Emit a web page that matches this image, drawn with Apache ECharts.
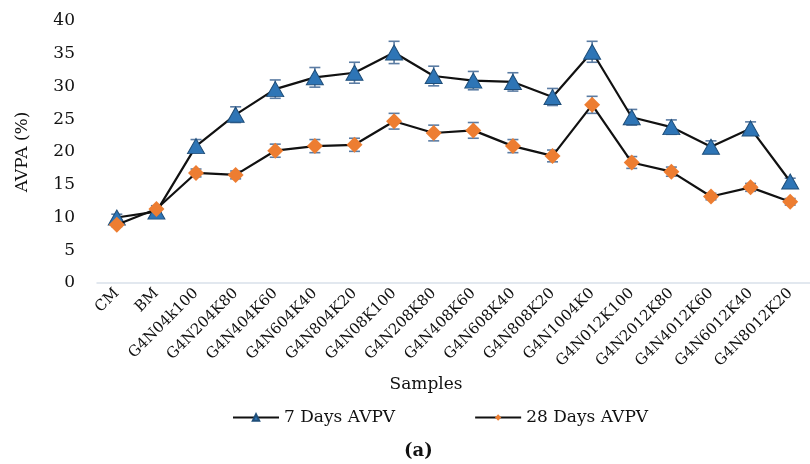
<!DOCTYPE html>
<html>
<head>
<meta charset="utf-8">
<script src="https://cdn.jsdelivr.net/npm/echarts@6/dist/echarts.min.js"></script>
<style>html,body{margin:0;padding:0;background:#fff;}#chart{width:810px;height:464px;}</style>
</head>
<body>
<div id="chart"></div>
<script>
const categories = ['CM','BM','G4N04k100','G4N204K80','G4N404K60','G4N604K40','G4N804K20','G4N08K100','G4N208K80','G4N408K60','G4N608K40','G4N808K20','G4N1004K0','G4N012K100','G4N2012K80','G4N4012K60','G4N6012K40','G4N8012K20'];
const days7 = [10.0, 10.9, 20.9, 25.7, 29.6, 31.4, 32.1, 35.2, 31.6, 30.9, 30.7, 28.4, 35.3, 25.3, 23.8, 20.8, 23.6, 15.5];
const days7Err = [0.5, 0.5, 1.0, 1.2, 1.4, 1.5, 1.6, 1.7, 1.5, 1.4, 1.4, 1.3, 1.6, 1.2, 1.1, 0.9, 1.0, 0.5];
const days28 = [8.9, 11.3, 16.8, 16.5, 20.2, 20.9, 21.1, 24.7, 22.9, 23.3, 20.9, 19.4, 27.2, 18.4, 17.0, 13.2, 14.6, 12.4];
const days28Err = [0.3, 0.5, 0.6, 0.6, 1.0, 1.0, 1.0, 1.2, 1.2, 1.2, 1.0, 0.9, 1.3, 0.9, 0.7, 0.5, 0.6, 0.5];
const yTicks = {min: 0, max: 40, interval: 5};

const FONT = 'DejaVu Serif';
const errColor = '#5b7ca3';

function errData(vals, errs) {
  return vals.map((v, i) => [i, v - errs[i], v + errs[i]]);
}
function renderErr(params, api) {
  const x = api.value(0);
  const lo = api.coord([x, api.value(1)]);
  const hi = api.coord([x, api.value(2)]);
  const cap = 5.5;
  const style = {stroke: errColor, lineWidth: 1.6};
  return {
    type: 'group',
    children: [
      {type: 'line', shape: {x1: lo[0], y1: lo[1], x2: hi[0], y2: hi[1]}, style: style},
      {type: 'line', shape: {x1: lo[0] - cap, y1: lo[1], x2: lo[0] + cap, y2: lo[1]}, style: style},
      {type: 'line', shape: {x1: hi[0] - cap, y1: hi[1], x2: hi[0] + cap, y2: hi[1]}, style: style}
    ]
  };
}

const chart = echarts.init(document.getElementById('chart'), null, {renderer: 'canvas'});
chart.setOption({
  animation: false,
  backgroundColor: '#fff',
  textStyle: {fontFamily: FONT},
  grid: {left: 97, top: 21, width: 725, bottom: 181},
  legend: {
    left: 232, top: 409, padding: 0,
    itemWidth: 46, itemHeight: 8, itemGap: 79,
    textStyle: {fontFamily: FONT, fontSize: 17, color: '#111'},
    data: ['7 Days AVPV', '28 Days AVPV']
  },
  xAxis: {
    type: 'category',
    data: categories,
    boundaryGap: true,
    name: 'Samples',
    nameLocation: 'middle',
    nameGap: 91,
    nameTextStyle: {fontFamily: FONT, fontSize: 17, color: '#111', padding: [0, 55, 0, 0]},
    axisLine: {lineStyle: {color: '#d9e1ea', width: 1.5}},
    axisTick: {show: false},
    axisLabel: {interval: 0, rotate: 45, margin: 8, fontFamily: FONT, fontSize: 15, color: '#111'},
    splitLine: {show: false}
  },
  yAxis: {
    type: 'value',
    min: yTicks.min, max: yTicks.max, interval: yTicks.interval,
    name: 'AVPA (%)',
    nameLocation: 'middle',
    nameGap: 66,
    nameTextStyle: {fontFamily: FONT, fontSize: 17, color: '#111'},
    axisLine: {show: false},
    axisTick: {show: false},
    splitLine: {show: false},
    axisLabel: {margin: 22, fontFamily: FONT, fontSize: 17, color: '#111'}
  },
  graphic: [
    {type: 'text', left: 404, top: 442, style: {text: '(a)', font: 'bold 18px "DejaVu Serif"', fill: '#111'}}
  ],
  series: [
    {type: 'custom', name: 'err7', renderItem: renderErr, data: errData(days7, days7Err), z: 1, silent: true},
    {type: 'custom', name: 'err28', renderItem: renderErr, data: errData(days28, days28Err), z: 1, silent: true},
    {
      type: 'line', name: '7 Days AVPV', data: days7, z: 3,
      symbol: 'triangle', symbolSize: [17, 15],
      lineStyle: {color: '#111', width: 2.2},
      itemStyle: {color: '#2e75b6', borderColor: '#1f4e79', borderWidth: 1}
    },
    {
      type: 'line', name: '28 Days AVPV', data: days28, z: 4,
      symbol: 'diamond', symbolSize: [16, 16],
      lineStyle: {color: '#111', width: 2.2},
      itemStyle: {color: '#ed7d31', borderColor: '#ed7d31', borderWidth: 0}
    }
  ]
});
</script>
</body>
</html>
